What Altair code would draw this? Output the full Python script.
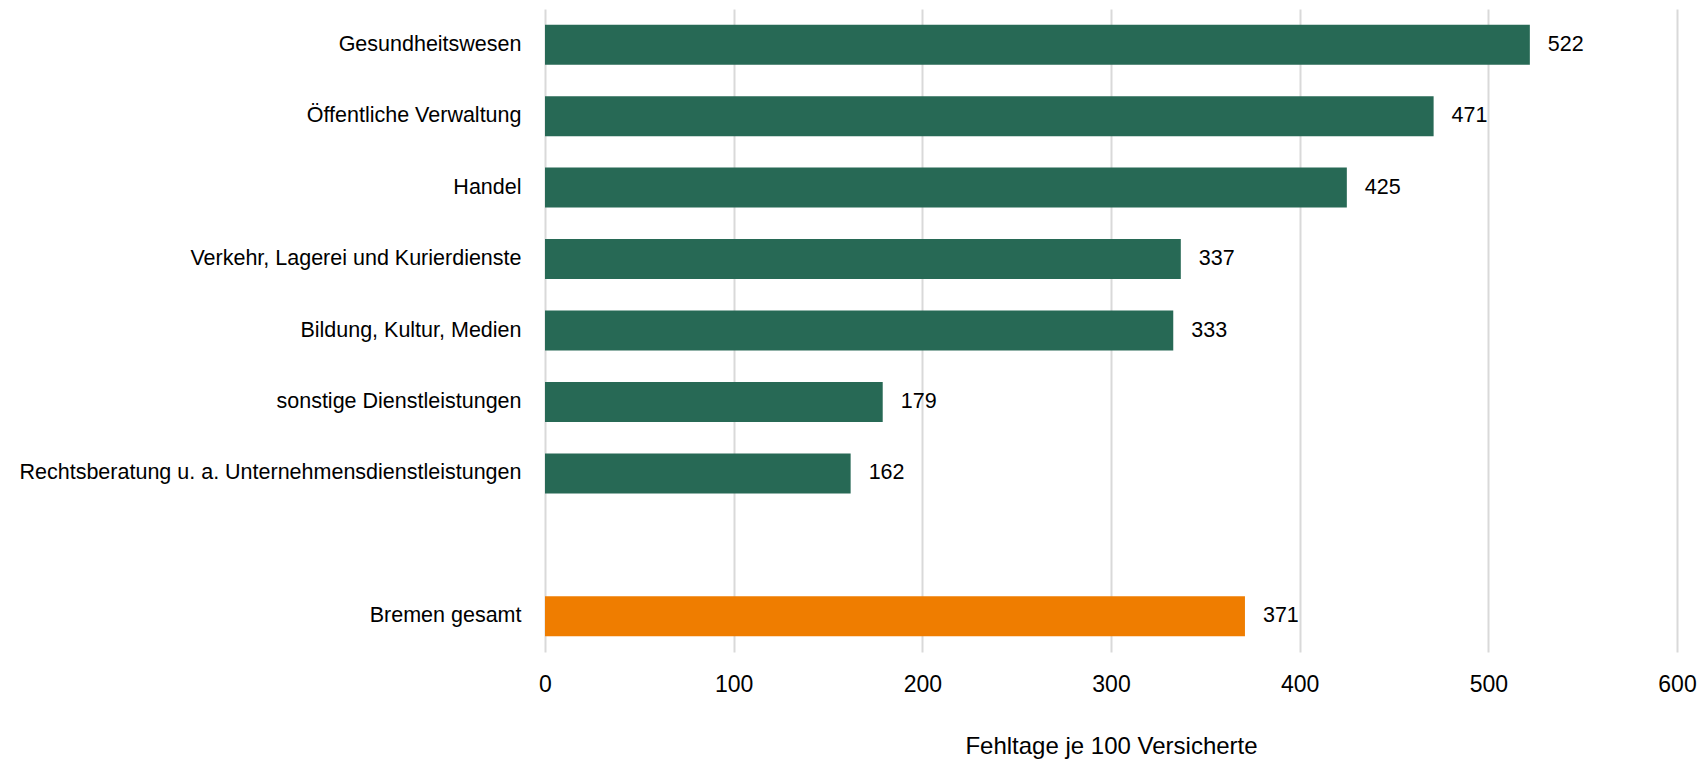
import altair as alt
import pandas as pd

categories = [
    "Gesundheitswesen",
    "Öffentliche Verwaltung",
    "Handel",
    "Verkehr, Lagerei und Kurierdienste",
    "Bildung, Kultur, Medien",
    "sonstige Dienstleistungen",
    "Rechtsberatung u. a. Unternehmensdienstleistungen",
    "Bremen gesamt",
]
values = [522, 471, 425, 337, 333, 179, 162, 371]
groups = ["Branche"] * 7 + ["gesamt"]

domain_order = categories[:7] + [" "] + categories[7:]

df = pd.DataFrame({"Branche": categories, "Wert": values, "Gruppe": groups})

FONT = "Liberation Sans"

y_enc = alt.Y(
    "Branche:N",
    sort=domain_order,
    scale=alt.Scale(domain=domain_order, paddingInner=0.44, paddingOuter=0.22),
    axis=alt.Axis(title=None, labelFontSize=21.5, labelFont=FONT, labelColor="#000000",
                  labelPadding=24, labelLimit=700, ticks=False, domain=False, grid=False),
)

x_enc = alt.X(
    "Wert:Q",
    scale=alt.Scale(domain=[0, 600], nice=False),
    axis=alt.Axis(values=[0, 100, 200, 300, 400, 500, 600], title="Fehltage je 100 Versicherte",
                  titleFont=FONT, titleFontSize=24, titleFontWeight="normal", titleColor="#000000",
                  titlePadding=38, labelFont=FONT, labelFontSize=23, labelColor="#000000",
                  labelPadding=21, labelFlush=False, ticks=False, domain=False, grid=True,
                  gridColor="#d9d9d9", gridWidth=2),
)

bars = alt.Chart(df).mark_bar().encode(
    x=x_enc,
    y=y_enc,
    color=alt.Color("Gruppe:N", scale=alt.Scale(domain=["Branche", "gesamt"],
                                                 range=["#276955", "#ef7d00"]), legend=None),
)

labels = alt.Chart(df).mark_text(align="left", baseline="middle", dx=18, font=FONT,
                                 fontSize=21.5, color="#000000").encode(
    x=alt.X("Wert:Q"),
    y=alt.Y("Branche:N", sort=domain_order),
    text=alt.Text("Wert:Q"),
)

chart = (bars + labels).properties(
    width=1132, height=643,
    autosize=alt.AutoSizeParams(type="none"),
    padding={"left": 545, "top": 9, "right": 27, "bottom": 111},
    background="#ffffff",
).configure_view(stroke=None)

chart.save("out.html", embed_options={"renderer": "svg", "actions": False})
